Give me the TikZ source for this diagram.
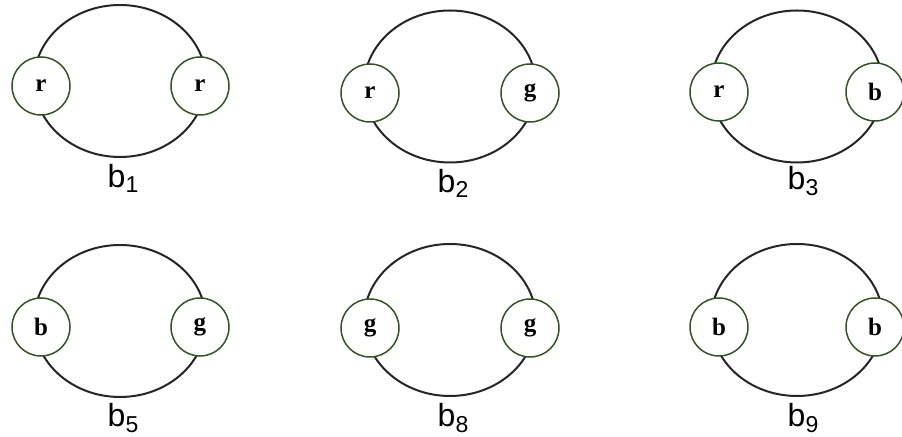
\documentclass[tikz,border=0pt]{standalone}
\usepackage{fontspec}
\setmainfont{Liberation Serif}
\newfontfamily\lblfont{Liberation Sans}
\usetikzlibrary{shapes.geometric}
\definecolor{ringgreen}{RGB}{52,84,40}
\tikzset{
  loopring/.style={draw=black!85, line width=1pt, ellipse, minimum width=86pt, minimum height=76pt, inner sep=0pt},
  bead/.style={circle, draw=ringgreen, line width=0.75pt, fill=white, minimum size=29pt, inner sep=0pt, font=\fontsize{12.5}{12.5}\selectfont\bfseries},
  caption/.style={font=\lblfont\fontsize{16}{16}\selectfont, inner sep=0pt}
}
\newcommand{\bsub}[1]{b\raisebox{-0.3ex}{\fontsize{11.5}{11.5}\selectfont #1}}
\begin{document}
\begin{tikzpicture}[x=0.5pt,y=-0.5pt]
\useasboundingbox[fill=white] (0,0) rectangle (902,437);
% row 1
\node[loopring] (e1) at (120,81) {};
\node[bead] (l1) at (41,86) {r};
\node[bead] (r1) at (200,86) {r};
\node[caption] (t1) at (123,178) {\bsub{1}};

\node[loopring] (e2) at (450,86.5) {};
\node[bead] (l2) at (370,93) {r};
\node[bead] (r2) at (530,93) {g};
\node[caption] (t2) at (453,183) {\bsub{2}};

\node[loopring] (e3) at (797,86.5) {};
\node[bead] (l3) at (719,92) {r};
\node[bead] (r3) at (875,92) {b};
\node[caption] (t3) at (803,181) {\bsub{3}};
% row 2
\node[loopring] (e5) at (120,321) {};
\node[bead] (l5) at (41,327) {b};
\node[bead] (r5) at (200,327) {g};
\node[caption] (t5) at (123,418) {\bsub{5}};

\node[loopring] (e8) at (450,320) {};
\node[bead] (l8) at (370,328) {g};
\node[bead] (r8) at (530,328) {g};
\node[caption] (t8) at (453,418) {\bsub{8}};

\node[loopring] (e9) at (797,320) {};
\node[bead] (l9) at (719,327) {b};
\node[bead] (r9) at (875,327) {b};
\node[caption] (t9) at (803,418) {\bsub{9}};
\end{tikzpicture}
\end{document}
